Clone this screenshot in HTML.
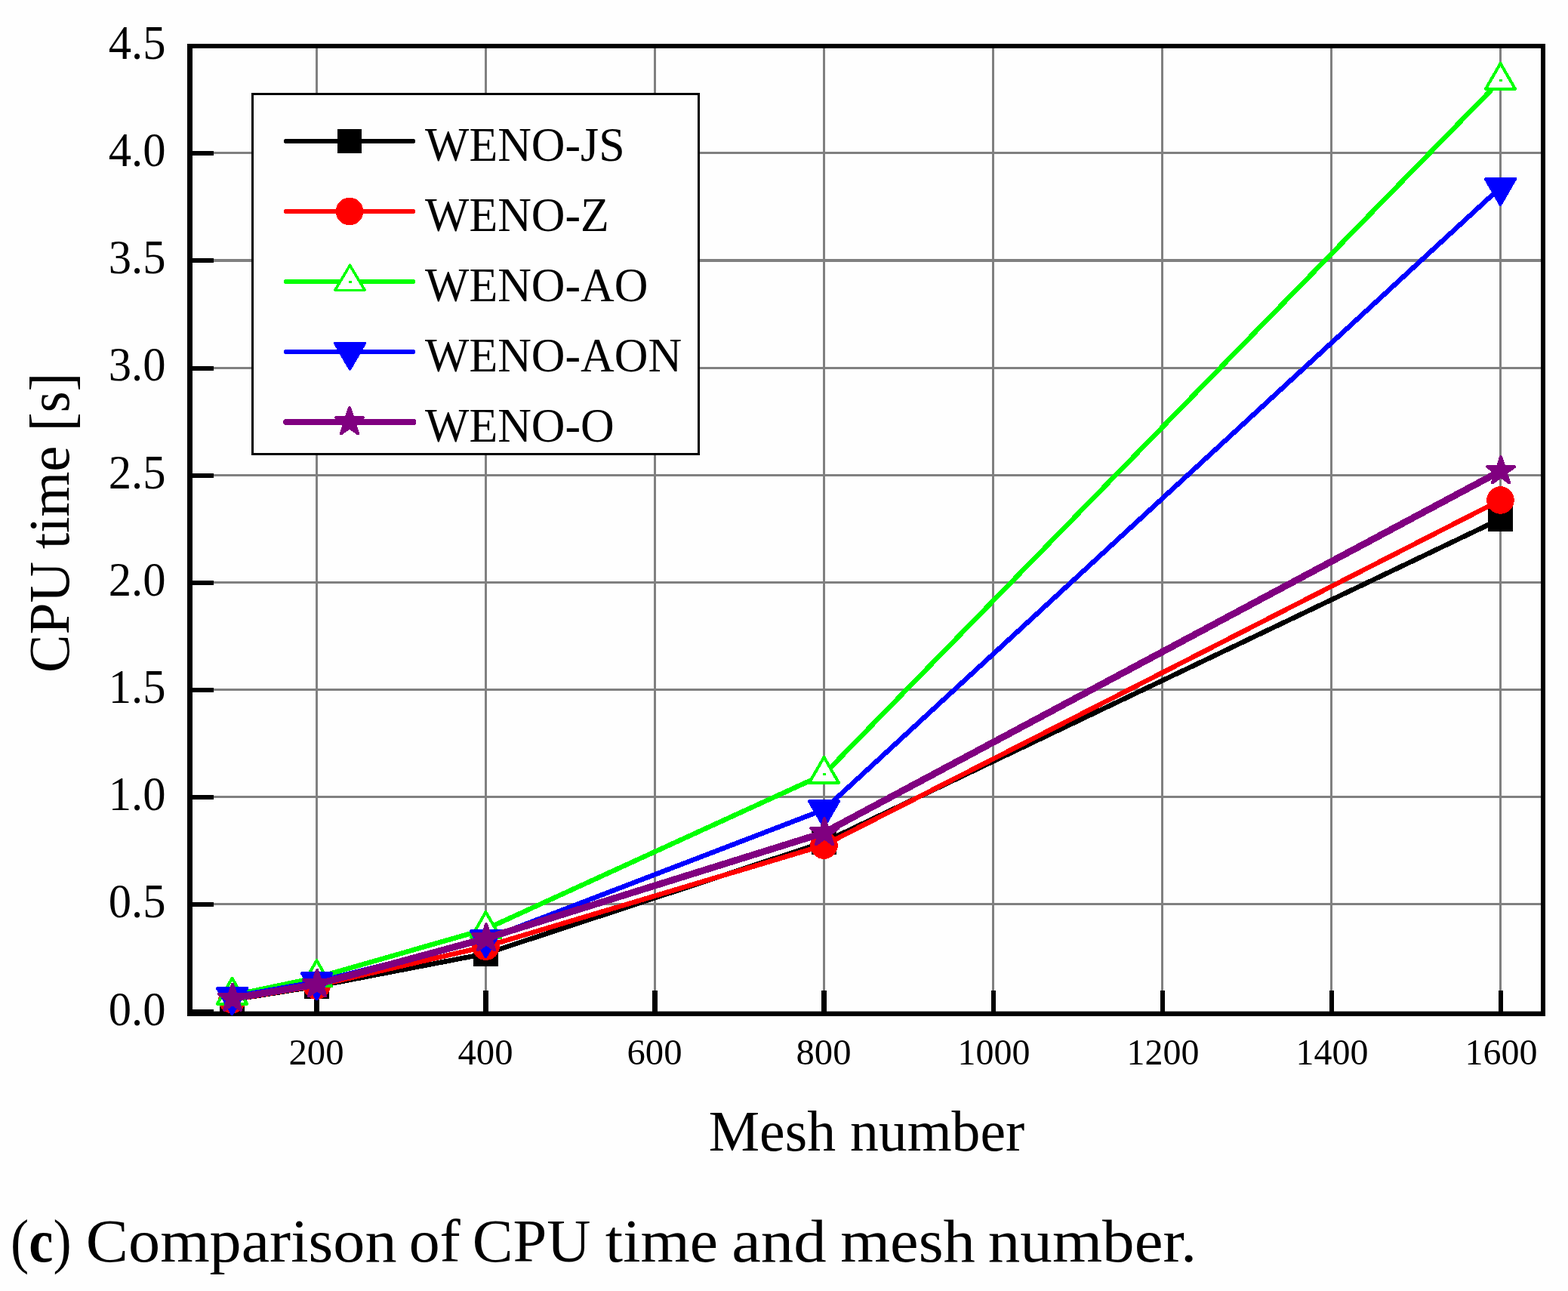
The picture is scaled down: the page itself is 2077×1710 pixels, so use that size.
<!DOCTYPE html>
<html lang="en">
<head>
<meta charset="utf-8">
<title>Comparison of CPU time and mesh number</title>
<style>
html,body{margin:0;padding:0;background:#fefefe;}
body{width:2077px;height:1710px;overflow:hidden;}
svg{display:block;}
text{font-family:"Liberation Serif","DejaVu Serif",serif;fill:#000;}
.crisp{shape-rendering:crispEdges;}
</style>
</head>
<body>
<svg width="2077" height="1710" viewBox="0 0 2077 1710">
<rect x="0" y="0" width="2077" height="1710" fill="#fefefe"/>

<g class="crisp" fill="#808080">
<rect x="418" y="64" width="3" height="1276"/>
<rect x="642" y="64" width="3" height="1276"/>
<rect x="866" y="64" width="3" height="1276"/>
<rect x="1090" y="64" width="3" height="1276"/>
<rect x="1314" y="64" width="3" height="1276"/>
<rect x="1538" y="64" width="3" height="1276"/>
<rect x="1762" y="64" width="3" height="1276"/>
<rect x="1986" y="64" width="3" height="1276"/>
<rect x="255" y="1196" width="1786" height="3"/>
<rect x="255" y="1054" width="1786" height="3"/>
<rect x="255" y="912" width="1786" height="3"/>
<rect x="255" y="770" width="1786" height="3"/>
<rect x="255" y="628" width="1786" height="3"/>
<rect x="255" y="486" width="1786" height="3"/>
<rect x="255" y="343" width="1786" height="4"/>
<rect x="255" y="201" width="1786" height="3"/>
</g>
<g class="crisp" fill="#000">
<rect x="248" y="58" width="7" height="1288"/>
<rect x="2041" y="58" width="6" height="1288"/>
<rect x="248" y="58" width="1799" height="6"/>
<rect x="248" y="1339.6" width="1799" height="6.4" style="shape-rendering:auto"/>
<rect x="255" y="1337" width="28" height="6"/>
<rect x="255" y="1195" width="28" height="6"/>
<rect x="255" y="1053" width="28" height="6"/>
<rect x="255" y="911" width="28" height="6"/>
<rect x="255" y="769" width="28" height="6"/>
<rect x="255" y="627" width="28" height="6"/>
<rect x="255" y="485" width="28" height="6"/>
<rect x="255" y="342" width="28" height="6"/>
<rect x="255" y="200" width="28" height="6"/>
<rect x="416" y="1312" width="7" height="28"/>
<rect x="640" y="1312" width="7" height="28"/>
<rect x="864" y="1312" width="7" height="28"/>
<rect x="1088" y="1312" width="7" height="28"/>
<rect x="1313" y="1312" width="6" height="28"/>
<rect x="1537" y="1312" width="6" height="28"/>
<rect x="1761" y="1312" width="6" height="28"/>
<rect x="1985" y="1312" width="6" height="28"/>
</g>
<g class="crisp">
<polyline points="307.5,1324.4 419.5,1306.4 643.5,1263.2 1091.5,1115.5 1987.5,687.5" fill="none" stroke="#000000" stroke-width="6.5" stroke-linejoin="round" stroke-linecap="round"/>
<rect x="291.0" y="1307.9" width="33" height="33" fill="#000000"/>
<rect x="403.0" y="1289.9" width="33" height="33" fill="#000000"/>
<rect x="627.0" y="1246.7" width="33" height="33" fill="#000000"/>
<rect x="1075.0" y="1099.0" width="33" height="33" fill="#000000"/>
<rect x="1971.0" y="671.0" width="33" height="33" fill="#000000"/>
<polyline points="307.5,1324.0 419.5,1305.6 643.5,1253.7 1091.5,1119.6 1987.5,662.5" fill="none" stroke="#ff0000" stroke-width="6.5" stroke-linejoin="round" stroke-linecap="round"/>
<circle cx="307.5" cy="1324.0" r="18.3" fill="#ff0000"/>
<circle cx="419.5" cy="1305.6" r="18.3" fill="#ff0000"/>
<circle cx="643.5" cy="1253.7" r="18.3" fill="#ff0000"/>
<circle cx="1091.5" cy="1119.6" r="18.3" fill="#ff0000"/>
<circle cx="1987.5" cy="662.5" r="18.3" fill="#ff0000"/>
<polyline points="307.5,1318.4 419.5,1294.8 643.5,1230.7 1091.5,1025.6 1987.5,106.6" fill="none" stroke="#00ff00" stroke-width="6.5" stroke-linejoin="round" stroke-linecap="round"/>
<polygon points="307.50,1295.73 287.90,1329.73 327.10,1329.73" fill="#fefefe" stroke="#00ff00" stroke-width="4" stroke-linejoin="round"/><rect x="305.5" y="1316.9" width="4" height="3" fill="#00ff00"/>
<polygon points="419.50,1272.13 399.90,1306.13 439.10,1306.13" fill="#fefefe" stroke="#00ff00" stroke-width="4" stroke-linejoin="round"/><rect x="417.5" y="1293.3" width="4" height="3" fill="#00ff00"/>
<polygon points="643.50,1208.03 623.90,1242.03 663.10,1242.03" fill="#fefefe" stroke="#00ff00" stroke-width="4" stroke-linejoin="round"/><rect x="641.5" y="1229.2" width="4" height="3" fill="#00ff00"/>
<polygon points="1091.50,1002.93 1071.90,1036.93 1111.10,1036.93" fill="#fefefe" stroke="#00ff00" stroke-width="4" stroke-linejoin="round"/><rect x="1089.5" y="1024.1" width="4" height="3" fill="#00ff00"/>
<polygon points="1987.50,83.93 1967.90,117.93 2007.10,117.93" fill="#fefefe" stroke="#00ff00" stroke-width="4" stroke-linejoin="round"/><rect x="1985.5" y="105.1" width="4" height="3" fill="#00ff00"/>
<polyline points="307.5,1320.3 419.5,1300.4 643.5,1244.3 1091.5,1072.4 1987.5,248.3" fill="none" stroke="#0000ff" stroke-width="6.5" stroke-linejoin="round" stroke-linecap="round"/>
<polygon points="287.90,1308.97 327.10,1308.97 307.50,1342.97" fill="#0000ff" stroke="#0000ff" stroke-width="4" stroke-linejoin="round"/>
<polygon points="399.90,1289.07 439.10,1289.07 419.50,1323.07" fill="#0000ff" stroke="#0000ff" stroke-width="4" stroke-linejoin="round"/>
<polygon points="623.90,1232.97 663.10,1232.97 643.50,1266.97" fill="#0000ff" stroke="#0000ff" stroke-width="4" stroke-linejoin="round"/>
<polygon points="1071.90,1061.07 1111.10,1061.07 1091.50,1095.07" fill="#0000ff" stroke="#0000ff" stroke-width="4" stroke-linejoin="round"/>
<polygon points="1967.90,236.97 2007.10,236.97 1987.50,270.97" fill="#0000ff" stroke="#0000ff" stroke-width="4" stroke-linejoin="round"/>
<polyline points="307.5,1322.6 419.5,1303.8 643.5,1243.0 1091.5,1103.0 1987.5,624.0" fill="none" stroke="#800080" stroke-width="9.0" stroke-linejoin="round" stroke-linecap="round"/>
<polygon points="308.10,1303.60 312.37,1316.73 326.17,1316.73 315.00,1324.84 319.27,1337.97 308.10,1329.86 296.93,1337.97 301.20,1324.84 290.03,1316.73 303.83,1316.73" fill="#800080" stroke="#800080" stroke-width="4" stroke-linejoin="round"/>
<polygon points="420.10,1284.80 424.37,1297.93 438.17,1297.93 427.00,1306.04 431.27,1319.17 420.10,1311.06 408.93,1319.17 413.20,1306.04 402.03,1297.93 415.83,1297.93" fill="#800080" stroke="#800080" stroke-width="4" stroke-linejoin="round"/>
<polygon points="644.10,1224.00 648.37,1237.13 662.17,1237.13 651.00,1245.24 655.27,1258.37 644.10,1250.26 632.93,1258.37 637.20,1245.24 626.03,1237.13 639.83,1237.13" fill="#800080" stroke="#800080" stroke-width="4" stroke-linejoin="round"/>
<polygon points="1092.10,1084.00 1096.37,1097.13 1110.17,1097.13 1099.00,1105.24 1103.27,1118.37 1092.10,1110.26 1080.93,1118.37 1085.20,1105.24 1074.03,1097.13 1087.83,1097.13" fill="#800080" stroke="#800080" stroke-width="4" stroke-linejoin="round"/>
<polygon points="1988.10,605.00 1992.37,618.13 2006.17,618.13 1995.00,626.24 1999.27,639.37 1988.10,631.26 1976.93,639.37 1981.20,626.24 1970.03,618.13 1983.83,618.13" fill="#800080" stroke="#800080" stroke-width="4" stroke-linejoin="round"/>
</g>
<g class="crisp">
<rect x="334.5" y="124.5" width="591" height="477" fill="#fefefe" stroke="#000" stroke-width="3"/>
<line x1="379" y1="187" x2="547" y2="187" stroke="#000000" stroke-width="6" stroke-linecap="round"/>
<rect x="447" y="171" width="32" height="32" fill="#000000"/>
<line x1="379" y1="280" x2="547" y2="280" stroke="#ff0000" stroke-width="6" stroke-linecap="round"/>
<circle cx="463.0" cy="280.0" r="18.3" fill="#ff0000"/>
<line x1="379" y1="373" x2="547" y2="373" stroke="#00ff00" stroke-width="6" stroke-linecap="round"/>
<polygon points="463.50,351.33 443.90,384.33 483.10,384.33" fill="#fefefe" stroke="#00ff00" stroke-width="3.6" stroke-linejoin="round"/><rect x="461.5" y="371.5" width="4" height="3" fill="#00ff00"/>
<line x1="379" y1="466" x2="547" y2="466" stroke="#0000ff" stroke-width="6" stroke-linecap="round"/>
<polygon points="443.90,454.67 483.10,454.67 463.50,488.67" fill="#0000ff" stroke="#0000ff" stroke-width="4" stroke-linejoin="round"/>
<line x1="379" y1="559" x2="547.5" y2="559" stroke="#800080" stroke-width="8" stroke-linecap="round"/>
<polygon points="463.00,540.00 467.27,553.13 481.07,553.13 469.90,561.24 474.17,574.37 463.00,566.26 451.83,574.37 456.10,561.24 444.93,553.13 458.73,553.13" fill="#800080" stroke="#800080" stroke-width="4" stroke-linejoin="round"/>
</g>
<g>
<text transform="translate(563.00,212.90) scale(0.9760,1)" font-size="63.4" text-anchor="start">WENO-JS</text>
<text transform="translate(563.00,305.90) scale(0.9760,1)" font-size="63.4" text-anchor="start">WENO-Z</text>
<text transform="translate(563.00,398.90) scale(0.9760,1)" font-size="63.4" text-anchor="start">WENO-AO</text>
<text transform="translate(563.00,491.90) scale(0.9760,1)" font-size="63.4" text-anchor="start">WENO-AON</text>
<text transform="translate(563.00,584.90) scale(0.9760,1)" font-size="63.4" text-anchor="start">WENO-O</text>
<text transform="translate(143.70,1357.50) scale(0.9470,1)" font-size="64" text-anchor="start">0.0</text>
<text transform="translate(143.70,1215.32) scale(0.9470,1)" font-size="64" text-anchor="start">0.5</text>
<text transform="translate(143.70,1073.14) scale(0.9470,1)" font-size="64" text-anchor="start">1.0</text>
<text transform="translate(143.70,930.96) scale(0.9470,1)" font-size="64" text-anchor="start">1.5</text>
<text transform="translate(143.70,788.78) scale(0.9470,1)" font-size="64" text-anchor="start">2.0</text>
<text transform="translate(143.70,646.60) scale(0.9470,1)" font-size="64" text-anchor="start">2.5</text>
<text transform="translate(143.70,504.42) scale(0.9470,1)" font-size="64" text-anchor="start">3.0</text>
<text transform="translate(143.70,362.24) scale(0.9470,1)" font-size="64" text-anchor="start">3.5</text>
<text transform="translate(143.70,220.06) scale(0.9470,1)" font-size="64" text-anchor="start">4.0</text>
<text transform="translate(143.70,77.88) scale(0.9470,1)" font-size="64" text-anchor="start">4.5</text>
<text transform="translate(419.00,1410.10)" font-size="48.7" text-anchor="middle">200</text>
<text transform="translate(643.00,1410.10)" font-size="48.7" text-anchor="middle">400</text>
<text transform="translate(867.00,1410.10)" font-size="48.7" text-anchor="middle">600</text>
<text transform="translate(1091.00,1410.10)" font-size="48.7" text-anchor="middle">800</text>
<text transform="translate(1316.50,1410.10) scale(0.9850,1)" font-size="48.7" text-anchor="middle">1000</text>
<text transform="translate(1540.50,1410.10) scale(0.9850,1)" font-size="48.7" text-anchor="middle">1200</text>
<text transform="translate(1764.50,1410.10) scale(0.9850,1)" font-size="48.7" text-anchor="middle">1400</text>
<text transform="translate(1988.50,1410.10) scale(0.9850,1)" font-size="48.7" text-anchor="middle">1600</text>
<text transform="translate(1148.00,1524.30) scale(0.9930,1)" font-size="76.3" text-anchor="middle">Mesh number</text>
<text transform="translate(90.8,0) rotate(-90)" font-size="76.0" style="white-space:pre"><tspan x="-890.88" y="0" textLength="146.91" lengthAdjust="spacingAndGlyphs">CPU</tspan> <tspan x="-727.31" y="0" textLength="136.73" lengthAdjust="spacingAndGlyphs">time</tspan> <tspan x="-571.24" y="0" textLength="77.61" lengthAdjust="spacingAndGlyphs"><tspan font-size="79.6" dy="4.2">[</tspan><tspan dy="-4.2">s</tspan><tspan font-size="79.6" dy="4.2">]</tspan></tspan></text>
</g>
<text y="1671.3" font-size="80.5" style="white-space:pre"><tspan x="14.10" textLength="80.42" lengthAdjust="spacingAndGlyphs">(<tspan font-weight="bold">c</tspan>)</tspan> <tspan x="113.86" textLength="411.66" lengthAdjust="spacingAndGlyphs">Comparison</tspan> <tspan x="541.65" textLength="68.11" lengthAdjust="spacingAndGlyphs">of</tspan> <tspan x="625.70" textLength="156.71" lengthAdjust="spacingAndGlyphs">CPU</tspan> <tspan x="801.86" textLength="149.05" lengthAdjust="spacingAndGlyphs">time</tspan> <tspan x="969.16" textLength="125.47" lengthAdjust="spacingAndGlyphs">and</tspan> <tspan x="1113.30" textLength="178.59" lengthAdjust="spacingAndGlyphs">mesh</tspan> <tspan x="1308.79" textLength="276.63" lengthAdjust="spacingAndGlyphs">number.</tspan></text>
</svg>
</body>
</html>
